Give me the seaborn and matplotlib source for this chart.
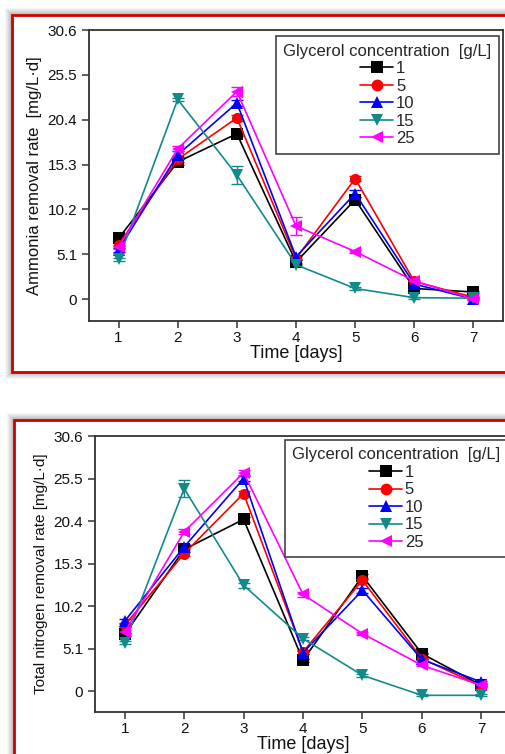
import numpy as np
import pandas as pd
import matplotlib
matplotlib.use("Agg")
import matplotlib.pyplot as plt
import seaborn as sns
from matplotlib.patches import Rectangle
from matplotlib.lines import Line2D

# ---------------- data ----------------
days = [1, 2, 3, 4, 5, 6, 7]
concs = ["1", "5", "10", "15", "25"]

amm_1 = [6.9, 15.6, 18.8, 4.2, 11.3, 1.2, 0.8]
amm_5 = [6.2, 15.9, 20.6, 4.6, 13.7, 2.0, 0.2]
amm_10 = [5.6, 16.4, 22.3, 4.8, 12.0, 1.7, 0.0]
amm_15 = [4.5, 22.7, 14.1, 3.9, 1.2, 0.15, 0.1]
amm_25 = [5.9, 17.1, 23.6, 8.3, 5.4, 2.05, 0.0]

amm_err_1 = [0.2, 0.3, 0.3, 0.2, 0.3, 0.1, 0.1]
amm_err_5 = [0.2, 0.3, 0.3, 0.2, 0.3, 0.1, 0.1]
amm_err_10 = [0.2, 0.4, 0.3, 0.2, 0.4, 0.1, 0.1]
amm_err_15 = [0.2, 0.2, 1.0, 0.2, 0.2, 0.1, 0.1]
amm_err_25 = [0.2, 0.3, 0.5, 1.0, 0.2, 0.1, 0.1]

tn_1 = [6.8, 17.0, 20.6, 3.7, 13.8, 4.5, 0.7]
tn_5 = [7.9, 16.5, 23.7, 4.7, 13.3, 3.9, 0.6]
tn_10 = [8.4, 17.3, 25.5, 4.6, 12.1, 3.8, 1.1]
tn_15 = [5.8, 24.3, 12.7, 6.3, 1.9, -0.5, -0.5]
tn_25 = [7.1, 19.1, 26.2, 11.6, 6.9, 3.1, 0.7]

tn_err_1 = [0.2, 0.3, 0.3, 0.2, 0.3, 0.1, 0.1]
tn_err_5 = [0.2, 0.3, 0.3, 0.2, 0.3, 0.1, 0.1]
tn_err_10 = [0.2, 0.3, 0.3, 0.2, 0.3, 0.1, 0.1]
tn_err_15 = [0.2, 1.0, 0.3, 0.2, 0.2, 0.1, 0.1]
tn_err_25 = [0.2, 0.3, 0.3, 0.3, 0.2, 0.1, 0.1]

yticks = [0, 5.1, 10.2, 15.3, 20.4, 25.5, 30.6]
ytick_labels = ["0", "5.1", "10.2", "15.3", "20.4", "25.5", "30.6"]

colors = {"1": "#000000", "5": "#FF0000", "10": "#0000FF", "15": "#138A8A", "25": "#FF00FF"}
markers = {"1": "s", "5": "o", "10": "^", "15": "v", "25": "<"}

amm = dict(zip(concs, [amm_1, amm_5, amm_10, amm_15, amm_25]))
amm_err = dict(zip(concs, [amm_err_1, amm_err_5, amm_err_10, amm_err_15, amm_err_25]))
tn = dict(zip(concs, [tn_1, tn_5, tn_10, tn_15, tn_25]))
tn_err = dict(zip(concs, [tn_err_1, tn_err_5, tn_err_10, tn_err_15, tn_err_25]))


def long_df(d):
    rows = []
    for c in concs:
        for dd, v in zip(days, d[c]):
            rows.append({"day": dd, "conc": c, "rate": v})
    return pd.DataFrame(rows)


sns.set_style("ticks")
plt.rcParams["font.family"] = ["Liberation Sans", "DejaVu Sans"]

W, H = 506, 754
fig = plt.figure(figsize=(W / 100, H / 100), dpi=100)
fig.patch.set_facecolor("white")


def fx(px):
    return px / W


def fy(py):
    return 1 - py / H


def frame(x0, y0, x1, y1):
    # soft shadow
    for i, a in enumerate([0.05, 0.05, 0.05, 0.06, 0.07, 0.08]):
        off = 7 - i
        r = Rectangle((fx(x0 - off), fy(y1 + off)), fx(x1 - x0 + 2 * off), (y1 - y0 + 2 * off) / H,
                      transform=fig.transFigure, facecolor="#404040", edgecolor="none",
                      alpha=a, zorder=-10)
        fig.patches.append(r)
    r = Rectangle((fx(x0), fy(y1)), fx(x1 - x0), (y1 - y0) / H, transform=fig.transFigure,
                  facecolor="white", edgecolor="#CC0000", linewidth=2.0, zorder=-5)
    fig.patches.append(r)


frame(12, 15, 530, 372)
frame(14, 420, 530, 790)


def panel(rect, d, err, ylabel, ylabel_size, leg_anchor):
    ax = fig.add_axes(rect)
    df = long_df(d)
    sns.lineplot(data=df, x="day", y="rate", hue="conc", style="conc",
                 hue_order=concs, style_order=concs, palette=colors,
                 markers=markers, dashes=False, markersize=8, linewidth=1.2,
                 markeredgewidth=0, legend=False, ax=ax, zorder=3)
    for c in concs:
        ax.errorbar(days, d[c], yerr=err[c], fmt="none", ecolor=colors[c],
                    elinewidth=1.0, capsize=4, capthick=1.0, zorder=2)
    ax.set_xlim(0.5, 7.5)
    ax.set_ylim(-2.5, 30.6)
    ax.set_xticks(days)
    ax.set_xticklabels([str(x) for x in days])
    ax.set_yticks(yticks)
    ax.set_yticklabels(ytick_labels)
    ax.tick_params(axis="both", direction="out", length=5, width=1.1, color="#333333",
                   labelsize=11, labelcolor="#111111", top=False, right=False)
    ax.tick_params(axis="x", pad=2)
    for s in ax.spines.values():
        s.set_visible(True)
        s.set_color("#333333")
        s.set_linewidth(1.3)
    ax.set_xlabel("Time [days]", fontsize=13, labelpad=0, color="#111111")
    ax.set_ylabel(ylabel, fontsize=ylabel_size, labelpad=4, color="#111111")
    ax.set_facecolor("white")
    handles = [Line2D([0], [0], color=colors[c], marker=markers[c], markersize=8.5,
                      markeredgewidth=0, linewidth=1.2) for c in concs]
    leg = ax.legend(handles, concs, title="Glycerol concentration  [g/L]",
                    loc="upper right", bbox_to_anchor=leg_anchor, borderaxespad=0,
                    fontsize=12, title_fontsize=12, frameon=True, fancybox=False,
                    edgecolor="#444444", framealpha=1, handlelength=2.0,
                    handletextpad=0.15, labelspacing=0.15, borderpad=0.45,
                    alignment="center")
    leg.get_frame().set_linewidth(1.2)
    return ax


panel([fx(89), fy(321), fx(503 - 89), (321 - 30) / H],
      amm, amm_err, "Ammonia removal rate  [mg/L\u00b7d]", 12, (0.99, 0.979))
panel([fx(95), fy(712), fx(511 - 95), (712 - 436) / H],
      tn, tn_err, "Total nitrogen removal rate [mg/L\u00b7d]", 11, (0.992, 0.986))

fig.savefig("out.png", dpi=100)
